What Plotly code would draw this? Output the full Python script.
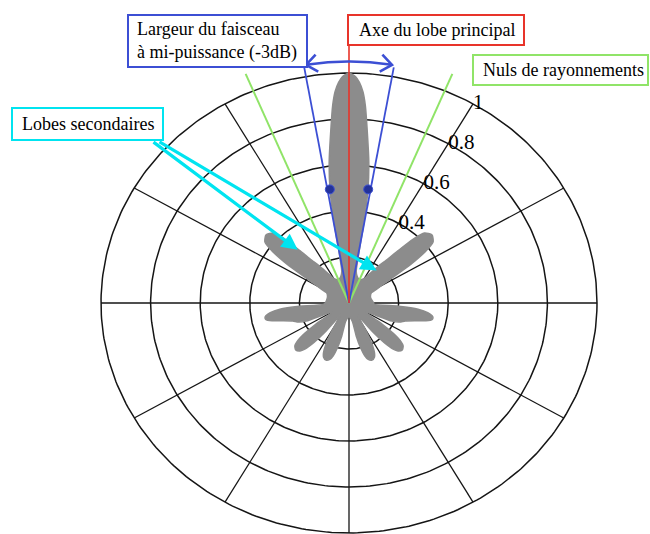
import numpy as np
import plotly.graph_objects as go

# ---------------- data ----------------
# normalised radiation pattern r(theta), theta in degrees (0 = east, counter-clockwise)
pattern_theta = [0, 14, 26, 28, 30, 32, 34, 36, 38, 41.5, 45, 47, 49, 51, 53.5, 57, 61, 68, 74, 78,
                 79.5, 80.2, 81.2, 82.6, 84.6, 85.6, 86.5, 87.5, 88.5, 90, 91.5, 92.5, 93.5, 94.4,
                 95.4, 97.4, 98.8, 99.8, 100.5, 102, 106, 112, 119, 123, 126.5, 129, 131, 133,
                 135, 138.5, 142, 144, 146, 148, 150, 152, 154, 166, 183, 184, 185.5, 187.5, 190,
                 192, 194, 196, 199, 202, 204.5, 206.5, 209, 212.5, 214.5, 216.5, 218.5, 220.5,
                 223.5, 226.5, 228.5, 230.5, 232.5, 234.5, 236.5, 238.5, 240.5, 242.5, 244.5,
                 246.5, 249.5, 252.5, 254.5, 256.5, 258.5, 260.5, 270, 279.5, 281.5, 283.5, 285.5,
                 287.5, 290.5, 293.5, 295.5, 297.5, 299.5, 301.5, 303.5, 305.5, 307.5, 309.5,
                 311.5, 313.5, 316.5, 319.5, 321.5, 323.5, 325.5, 327.5, 331, 333.5, 335.5, 338,
                 341, 344, 346, 348, 350, 352.5, 354.5, 356, 357, 360]
pattern_r = [0.10, 0.09, 0.10, 0.12, 0.15, 0.20, 0.30, 0.38, 0.43, 0.447, 0.43, 0.38, 0.30, 0.24,
             0.20, 0.15, 0.12, 0.11, 0.12, 0.14, 0.20, 0.35, 0.50, 0.62, 0.77, 0.86, 0.92, 0.96,
             0.985, 1.00, 0.985, 0.96, 0.92, 0.86, 0.77, 0.62, 0.50, 0.35, 0.20, 0.14, 0.12,
             0.11, 0.12, 0.15, 0.20, 0.24, 0.30, 0.38, 0.43, 0.447, 0.43, 0.38, 0.30, 0.20, 0.15,
             0.12, 0.10, 0.09, 0.10, 0.20, 0.28, 0.32, 0.343, 0.343, 0.32, 0.28, 0.24, 0.22, 0.19,
             0.12, 0.08, 0.09, 0.163, 0.222, 0.266, 0.287, 0.296, 0.287, 0.266, 0.222, 0.163,
             0.09, 0.06, 0.08, 0.146, 0.20, 0.238, 0.257, 0.265, 0.257, 0.238, 0.20, 0.146, 0.08,
             0.06, 0.08, 0.146, 0.20, 0.238, 0.257, 0.265, 0.257, 0.238, 0.20, 0.146, 0.08, 0.06,
             0.09, 0.163, 0.222, 0.266, 0.287, 0.296, 0.287, 0.266, 0.222, 0.163, 0.09, 0.08,
             0.12, 0.19, 0.22, 0.24, 0.28, 0.32, 0.343, 0.343, 0.32, 0.28, 0.20, 0.10, 0.10]

grid_r = [0.2, 0.4, 0.6, 0.8, 1.0]
spoke_theta = [0, 30, 60, 90, 120, 150, 180, 210, 240, 270, 300, 330]
tick_r = [0.4, 0.6, 0.8, 1.0]
tick_text = ["0.4", "0.6", "0.8", "1"]
tick_theta = 60

main_axis_theta = 90          # axe du lobe principal
hpbw_theta = [80, 100]        # largeur à mi-puissance
null_theta = [67.3, 112.7]    # nuls de rayonnement
hp_point_theta = [81.1, 98.9]
hp_point_r = [0.5, 0.5]
arc_theta = [80.5, 99.5]
arc_r = 1.05
side_target_theta = [131.8, 51.7]
side_target_r = [0.31, 0.18]

# ---------------- page geometry ----------------
W, H = 650, 534
CX, CY, SX, SY = 349, 303, 248, 230     # centre and pixel scale of the (slightly elliptic) grid

FONT = "Liberation Serif"
BLUE, RED, GREEN, CYAN = "#3c4fd4", "#e8342a", "#90e468", "#00e4f0"


def pol(r, th_deg):
    t = np.radians(np.asarray(th_deg, dtype=float))
    r = np.asarray(r, dtype=float)
    return r * np.cos(t), r * np.sin(t)


def px2d(px, py):
    return (px - CX) / SX, (CY - py) / SY


def d2px(x, y):
    return CX + SX * x, CY - SY * y


fig = go.Figure()

# grid circles
gx, gy = [], []
tt = np.linspace(0, 360, 361)
for rr in grid_r:
    x, y = pol(np.full_like(tt, rr), tt)
    gx += list(x) + [None]
    gy += list(y) + [None]
fig.add_trace(go.Scatter(x=gx, y=gy, mode="lines", line=dict(color="#151515", width=1.5),
                         hoverinfo="skip"))
# spokes
sx_, sy_ = [], []
for th in spoke_theta:
    x, y = pol([0, grid_r[-1]], [th, th])
    sx_ += list(x) + [None]
    sy_ += list(y) + [None]
fig.add_trace(go.Scatter(x=sx_, y=sy_, mode="lines", line=dict(color="#151515", width=1.3),
                         hoverinfo="skip"))

# radiation pattern
px_, py_ = pol(pattern_r, pattern_theta)
fig.add_trace(go.Scatter(x=px_, y=py_, mode="lines", fill="toself", fillcolor="#8c8c8c",
                         line=dict(color="#8c8c8c", width=1.5, shape="spline", smoothing=0.6)))

# radial tick labels
tx, ty = pol(tick_r, [tick_theta] * len(tick_r))
fig.add_trace(go.Scatter(x=tx, y=ty, mode="text", text=tick_text, textposition="middle right",
                         textfont=dict(family=FONT, size=21, color="black")))

# null lines (green)
for th in null_theta:
    x, y = pol([0, 1.08], [th, th])
    fig.add_trace(go.Scatter(x=x, y=y, mode="lines", line=dict(color=GREEN, width=2)))
# half-power beam lines (blue)
for th in hpbw_theta:
    x, y = pol([0, 1.04], [th, th])
    fig.add_trace(go.Scatter(x=x, y=y, mode="lines", line=dict(color=BLUE, width=1.8)))
# main axis (red)
x, y = pol([0, 1.19], [main_axis_theta] * 2)
fig.add_trace(go.Scatter(x=x, y=y, mode="lines", line=dict(color=RED, width=1.6)))

# half-power points
hx, hy = pol(hp_point_r, hp_point_theta)
fig.add_trace(go.Scatter(x=hx, y=hy, mode="markers",
                         marker=dict(symbol="circle", size=9, color="#23329a",
                                     line=dict(color=BLUE, width=1))))

# curved double arrow
at = np.linspace(arc_theta[0], arc_theta[1], 40)
ax_, ay_ = pol(np.full_like(at, arc_r), at)
fig.add_trace(go.Scatter(x=ax_, y=ay_, mode="lines", line=dict(color=BLUE, width=2.6)))


def chevron(th_deg, outward_sign):
    t = np.radians(th_deg)
    tipx, tipy = d2px(arc_r * np.cos(t), arc_r * np.sin(t))
    dx, dy = -np.sin(t) * outward_sign * SX, -np.cos(t) * outward_sign * SY
    n = np.hypot(dx, dy)
    dx, dy = dx / n, dy / n
    xs, ys = [], []
    for a in (np.radians(38), -np.radians(38)):
        bx = -(dx * np.cos(a) - dy * np.sin(a))
        by = -(dx * np.sin(a) + dy * np.cos(a))
        xs.append(tipx + 14 * bx)
        ys.append(tipy + 14 * by)
    pts = [(xs[0], ys[0]), (tipx, tipy), (xs[1], ys[1])]
    dd = [px2d(a, b) for a, b in pts]
    return [p[0] for p in dd], [p[1] for p in dd]


for th, sgn in ((arc_theta[1], 1), (arc_theta[0], -1)):
    cx_, cy_ = chevron(th, sgn)
    fig.add_trace(go.Scatter(x=cx_, y=cy_, mode="lines", line=dict(color=BLUE, width=2.6)))

# ---------------- labelled boxes ----------------
boxes = [
    dict(px=(128, 307, 15, 67), color=BLUE, text="Largeur du faisceau<br>à mi-puissance (-3dB)",
         tx=135, ty=41),
    dict(px=(348, 524, 15, 45), color=RED, text="Axe du lobe principal", tx=357, ty=30),
    dict(px=(473, 648, 55, 85), color=GREEN, text="Nuls de rayonnements", tx=481, ty=70),
    dict(px=(12, 163, 108, 140), color=CYAN, text="Lobes secondaires", tx=20, ty=124),
]
shapes, annotations = [], []
for b in boxes:
    x0, x1, y0, y1 = b["px"]
    shapes.append(dict(type="rect", xref="paper", yref="paper", x0=x0 / W, x1=x1 / W,
                       y0=1 - y1 / H, y1=1 - y0 / H, line=dict(color=b["color"], width=2),
                       fillcolor="white", layer="above"))
    annotations.append(dict(xref="paper", yref="paper", x=b["tx"] / W, y=1 - b["ty"] / H,
                            xanchor="left", yanchor="middle", align="left", showarrow=False,
                            text=b["text"], font=dict(family=FONT, size=18, color="black")))

# cyan arrows to the secondary lobes
tails = [(152, 141), (158, 141)]
stx, sty = pol(side_target_r, side_target_theta)
for (tpx, tpy), x, y in zip(tails, stx, sty):
    ax0, ay0 = px2d(tpx, tpy)
    annotations.append(dict(x=x, y=y, xref="x", yref="y", ax=ax0, ay=ay0, axref="x", ayref="y",
                            text="", showarrow=True, arrowhead=2, arrowsize=1, arrowwidth=3.2,
                            arrowcolor=CYAN))

fig.update_layout(
    width=W, height=H, autosize=False,
    margin=dict(l=0, r=0, t=0, b=0, pad=0),
    paper_bgcolor="white", plot_bgcolor="white",
    showlegend=False,
    xaxis=dict(visible=False, range=[-CX / SX, (W - CX) / SX], fixedrange=True),
    yaxis=dict(visible=False, range=[-(H - CY) / SY, CY / SY], fixedrange=True),
    shapes=shapes, annotations=annotations,
)

fig.write_html("out.html", config={"displayModeBar": False},
               post_script="document.body.style.margin='0px';document.body.style.overflow='hidden';")
